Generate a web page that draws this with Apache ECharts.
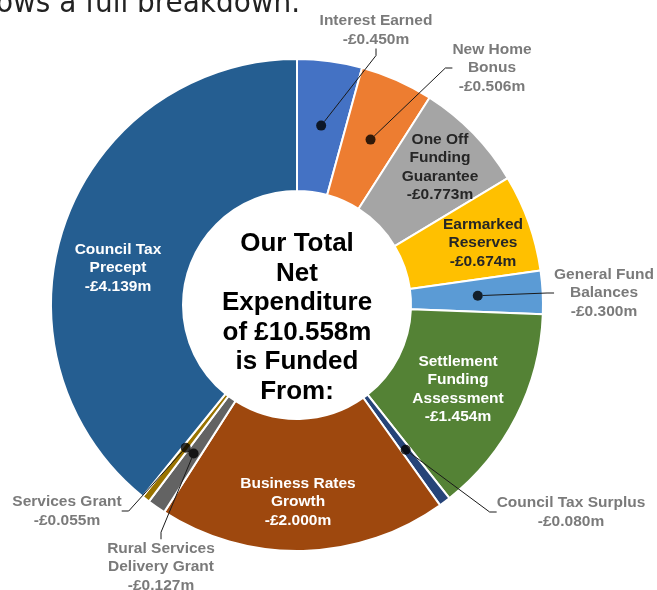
<!DOCTYPE html>
<html><head><meta charset="utf-8">
<script src="https://cdn.jsdelivr.net/npm/echarts/dist/echarts.min.js"></script>
<style>html,body{margin:0;padding:0;background:#fff;overflow:hidden}#c{width:657px;height:590px}</style>
</head><body><div id="c"></div>
<script>
// ---- data ----
const categories = ['Interest Earned','New Home Bonus','One Off Funding Guarantee','Earmarked Reserves','General Fund Balances','Settlement Funding Assessment','Council Tax Surplus','Business Rates Growth','Rural Services Delivery Grant','Services Grant','Council Tax Precept'];
const labelNames = ['Interest Earned','New Home\nBonus','One Off\nFunding\nGuarantee','Earmarked\nReserves','General Fund\nBalances','Settlement\nFunding\nAssessment','Council Tax Surplus','Business Rates\nGrowth','Rural Services\nDelivery Grant','Services Grant','Council Tax\nPrecept'];
const values = [0.450,0.506,0.773,0.674,0.300,1.454,0.080,2.000,0.127,0.055,4.139];
const centreText = 'Our Total\nNet\nExpenditure\nof £10.558m\nis Funded\nFrom:';
const headerText = 'ows a full breakdown.';

// ---- styles / layout ----
const colors = ['#4472C4','#ED7D31','#A5A5A5','#FFC000','#5B9BD5','#548235','#264478','#9E480E','#636363','#997300','#255E91'];
const inside = [false,false,true,true,false,true,false,true,false,false,true];
const insideColor = ['','','#262626','#262626','','#ffffff','','#ffffff','','','#ffffff'];
const labelPos = [[376,30],[492,68],[440,167],[483,243],[604,293],[458,389],[571,512],[298,502],[161,567],[67,511],[118,268]];
const CX = 297, CY = 305, R_IN = 114, R_OUT = 246, R_DOT = 181;
const FONT = 'Liberation Sans, Arial, sans-serif';

const total = values.reduce((a,b)=>a+b,0);
const fmt = v => '-£' + v.toFixed(3) + 'm';

const pieData = categories.map((c,i)=>({
  name: c, value: values[i],
  itemStyle: {color: colors[i]},
  label: inside[i] ? {show:true, color: insideColor[i]} : {show:false}
}));

const outsideIdx = [];
let cum = 0;
const scatterData = [];
values.forEach((v,i)=>{
  const mid = cum + v/2; cum += v;
  if (!inside[i]) { outsideIdx.push(i); scatterData.push({name: categories[i], value:[R_DOT, mid]}); }
});

const chart = echarts.init(document.getElementById('c'), null, {renderer:'canvas'});
chart.setOption({
  animation:false,
  backgroundColor:'#fff',
  polar:{center:[CX,CY], radius:R_OUT},
  radiusAxis:{type:'value', min:0, max:R_OUT, show:false},
  angleAxis:{type:'value', min:0, max:total, startAngle:90, clockwise:true, show:false},
  graphic:[
    {type:'text', x:CX, y:318, z:10, style:{text:centreText, align:'center', verticalAlign:'middle', font:'bold 26px '+FONT, lineHeight:29.5, fill:'#000'}},
    {type:'text', x:-4, y:19, style:{text:headerText, align:'left', verticalAlign:'bottom', font:'31px "DejaVu Sans Condensed", "DejaVu Sans", sans-serif', fill:'#222'}}
  ],
  series:[
    {
      type:'pie', center:[CX,CY], radius:[R_IN,R_OUT], startAngle:90, clockwise:true,
      avoidLabelOverlap:false, z:2,
      itemStyle:{borderColor:'#fff', borderWidth:2},
      label:{position:'inside', fontFamily:FONT, fontWeight:'bold', fontSize:15.5, lineHeight:18.5, align:'center',
        formatter: p => labelNames[p.dataIndex] + '\n' + fmt(p.value)},
      labelLine:{show:false},
      labelLayout: p => ({x:labelPos[p.dataIndex][0], y:labelPos[p.dataIndex][1], align:'center', verticalAlign:'middle'}),
      emphasis:{disabled:true},
      data: pieData
    },
    {
      type:'scatter', coordinateSystem:'polar', z:5, symbol:'circle', symbolSize:10,
      itemStyle:{color:'#000'},
      label:{show:true, position:'right', fontFamily:FONT, fontWeight:'bold', fontSize:15.5, lineHeight:18.5, color:'#595959', align:'center',
        formatter: p => labelNames[outsideIdx[p.dataIndex]] + '\n' + fmt(values[outsideIdx[p.dataIndex]])},
      labelLine:{show:true, length2:7, lineStyle:{color:'#1a1a1a', width:1}},
      labelLayout: p => { const q = labelPos[outsideIdx[p.dataIndex]]; return {x:q[0], y:q[1], align:'center', verticalAlign:'middle'}; },
      emphasis:{disabled:true},
      data: scatterData
    }
  ]
});
</script>
</body></html>
